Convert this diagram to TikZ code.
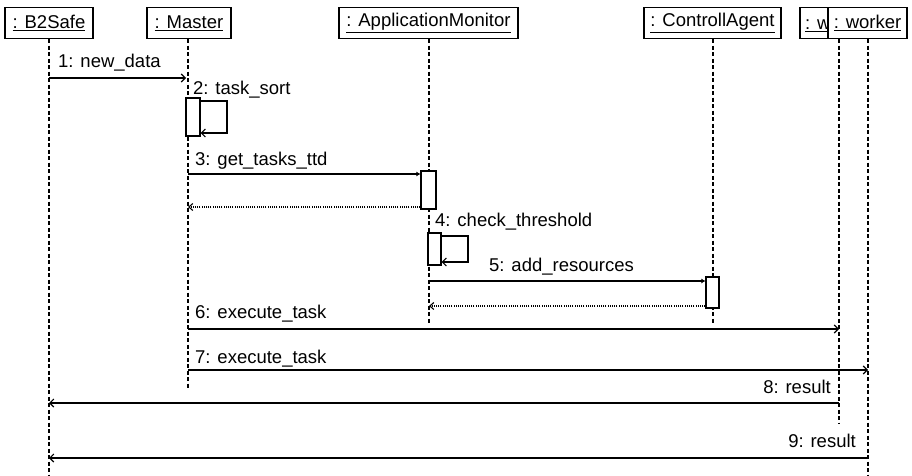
\documentclass[tikz,border=0pt]{standalone}
\usepackage{fontspec}
\setmainfont{Liberation Sans}
\usetikzlibrary{arrows.meta}
\begin{document}
\begin{tikzpicture}[x=1pt,y=-1pt,
  font=\fontsize{18.5}{22}\selectfont,
  hdr/.style={draw,line width=1.4pt,fill=white,minimum height=31pt,inner sep=0pt,anchor=center},
  life/.style={line width=1.1pt,dash pattern=on 4pt off 2.5pt},
  act/.style={draw,line width=1.2pt,fill=white,inner sep=0pt},
  msg/.style={line width=1.1pt,-{Straight Barb[length=4pt,width=8pt]}},
  syncmsg/.style={line width=1.1pt,-{Latex[length=4pt,width=5pt]}},
  ret/.style={line width=1.1pt,dash pattern=on 1pt off 1.2pt,-{Straight Barb[length=4pt,width=7pt]}},
  lbl/.style={inner sep=0pt,anchor=base west},
  lblr/.style={inner sep=0pt,anchor=base east}]
\useasboundingbox (0,0) rectangle (912,476);
% headers
\node[hdr,minimum width=88pt] (b2) at (49,23) {\underline{: B2Safe}};
\node[hdr,minimum width=84pt] (ma) at (189,23) {\underline{: Master}};
\node[hdr,minimum width=179pt] (am) at (428.5,23) {\underline{: ApplicationMonitor}};
\node[hdr,minimum width=137pt] (ca) at (712.5,23) {\underline{: ControllAgent}};
\node[hdr,minimum width=78pt] (w1) at (839,23) {};
\node[inner sep=0pt,anchor=base west] (w1t) at (805,30) {\underline{: w}};
\node[hdr,minimum width=79pt] (w2) at (867.5,23) {\underline{: worker}};
% lifeline ends
\coordinate (b2e) at (49,476);
\coordinate (mae) at (188,388);
\coordinate (ame) at (429,323);
\coordinate (cae) at (713,323);
\coordinate (w1e) at (839,423);
\coordinate (w2e) at (868,476);
\draw[life] (b2.south) -- (b2e);
\draw[life] (ma.south -| mae) -- (mae);
\draw[life] (am.south -| ame) -- (ame);
\draw[life] (ca.south -| cae) -- (cae);
\draw[life] (w1.south) -- (w1e);
\draw[life] (w2.south -| w2e) -- (w2e);
% activation boxes
\node[act,minimum width=14pt,minimum height=38pt] (a1) at (193,117) {};
\node[act,minimum width=15pt,minimum height=38pt] (a2) at (428.5,190) {};
\node[act,minimum width=13pt,minimum height=32pt] (a3) at (434.5,249) {};
\node[act,minimum width=13pt,minimum height=31pt] (a4) at (712.5,292.5) {};
% coordinates for message ends
\coordinate (m1s) at (49,78);   \coordinate (m1e) at (186,78);
\coordinate (m3s) at (188,174);
\coordinate (r3e) at (188,207);
\coordinate (m5s) at (429,281);
\coordinate (r5e) at (429,306);
\coordinate (m6s) at (188,329); \coordinate (m6e) at (839,329);
\coordinate (m7s) at (188,370); \coordinate (m7e) at (868,370);
\coordinate (m8s) at (839,403); \coordinate (m8e) at (49,403);
\coordinate (m9s) at (868,458); \coordinate (m9e) at (49,458);
% messages
\draw[msg] (m1s) -- (m1e);
\node[lbl] (l1) at (58,68) {1: new\_data};
\draw[msg] (a1.east |- 0,101) -- (227,101) -- (227,133) -- (a1.east |- 0,133);
\node[lbl] (l2) at (193,95) {2: task\_sort};
\draw[syncmsg] (m3s) -- (m3s -| a2.west);
\node[lbl] (l3) at (195,165) {3: get\_tasks\_ttd};
\draw[ret] (r3e -| a2.west) -- (r3e);
\draw[msg] (a3.east |- 0,236) -- (468,236) -- (468,262) -- (a3.east |- 0,262);
\node[lbl] (l4) at (435,226) {4: check\_threshold};
\draw[syncmsg] (m5s) -- (m5s -| a4.west);
\node[lbl] (l5) at (489,271) {5: add\_resources};
\draw[ret] (r5e -| a4.west) -- (r5e);
\draw[msg] (m6s) -- (m6e);
\node[lbl] (l6) at (195,318) {6: execute\_task};
\draw[msg] (m7s) -- (m7e);
\node[lbl] (l7) at (195,363) {7: execute\_task};
\draw[msg] (m8s) -- (m8e);
\node[lblr] (l8) at (831,393) {8: result};
\draw[msg] (m9s) -- (m9e);
\node[lblr] (l9) at (856,447) {9: result};
\end{tikzpicture}
\end{document}
